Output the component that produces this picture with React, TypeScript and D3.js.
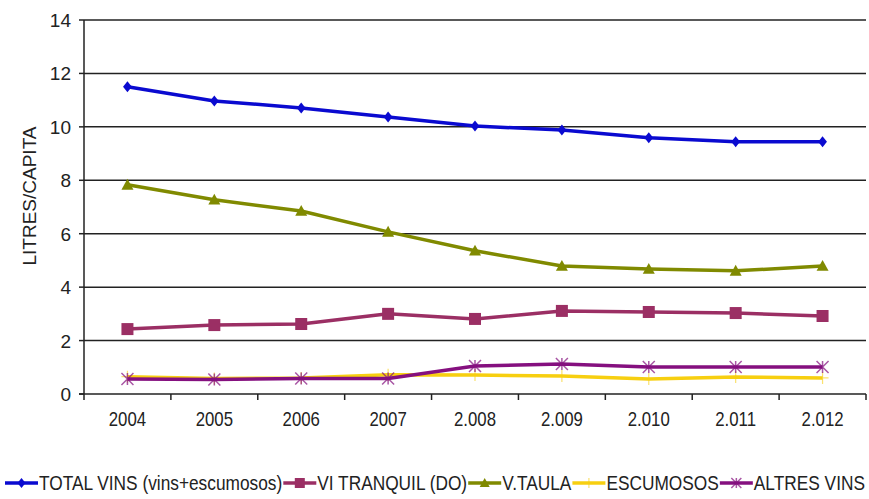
import React, { useEffect, useRef } from "react";
import * as d3 from "d3";

const years = ["2004", "2005", "2006", "2007", "2.008", "2.009", "2.010", "2.011", "2.012"];
const totalVins = [11.5, 10.97, 10.71, 10.37, 10.03, 9.88, 9.59, 9.44, 9.44];
const viTranquil = [2.43, 2.58, 2.62, 3.0, 2.81, 3.11, 3.07, 3.03, 2.92];
const vTaula = [7.83, 7.27, 6.85, 6.07, 5.36, 4.79, 4.68, 4.61, 4.79];
const escumosos = [0.65, 0.58, 0.6, 0.72, 0.71, 0.67, 0.56, 0.64, 0.6];
const altresVins = [0.56, 0.54, 0.58, 0.58, 1.05, 1.12, 1.01, 1.01, 1.01];
const yTicks = [0, 2, 4, 6, 8, 10, 12, 14];
const seriesNames = ["TOTAL VINS (vins+escumosos)", "VI TRANQUIL (DO)", "V.TAULA", "ESCUMOSOS", "ALTRES VINS"];
const seriesValues = [totalVins, viTranquil, vTaula, escumosos, altresVins];
const seriesColors = ["#0a0ad0", "#9b2f64", "#808a00", "#f7cf10", "#85107f"];
const seriesMarkers = ["diamond", "square", "triangle", "cross", "asterisk"];

const W = 869;
const H = 499;
const M = { left: 84, right: 3, top: 20, bottom: 105 };

function drawMarker(g: any, type: string, x: number, y: number, color: string, s: number) {
  if (type === "diamond") {
    g.append("path")
      .attr("d", `M${x},${y - s}L${x + s * 0.8},${y}L${x},${y + s}L${x - s * 0.8},${y}Z`)
      .attr("fill", color);
  } else if (type === "square") {
    g.append("rect").attr("x", x - s).attr("y", y - s).attr("width", 2 * s).attr("height", 2 * s).attr("fill", color);
  } else if (type === "triangle") {
    g.append("path")
      .attr("d", `M${x},${y - s}L${x + s},${y + s * 0.8}L${x - s},${y + s * 0.8}Z`)
      .attr("fill", color);
  } else if (type === "cross") {
    g.append("path")
      .attr("d", `M${x - s},${y}L${x + s},${y}M${x},${y - s}L${x},${y + s}`)
      .attr("stroke", color).attr("stroke-width", 1.2).attr("opacity", 0.6);
  } else if (type === "asterisk") {
    g.append("path")
      .attr("d", `M${x - s},${y - s}L${x + s},${y + s}M${x - s},${y + s}L${x + s},${y - s}M${x},${y - s}L${x},${y + s}`)
      .attr("stroke", color).attr("stroke-width", 1.5).attr("opacity", 0.7);
  }
}

export default function App() {
  const ref = useRef<SVGSVGElement>(null);
  useEffect(() => {
    const svg = d3.select(ref.current);
    svg.selectAll("*").remove();
    const x = d3.scaleBand().domain(years).range([M.left, W - M.right]);
    const y = d3.scaleLinear().domain([0, 14]).range([394, 20]);
    const font = "Liberation Sans, Arial, sans-serif";

    // gridlines
    svg.append("g").selectAll("line").data(yTicks.filter((t) => t > 0)).join("line")
      .attr("x1", M.left).attr("x2", W - M.right)
      .attr("y1", (d) => y(d)).attr("y2", (d) => y(d))
      .attr("stroke", "#222").attr("stroke-width", 1.5);

    // axes
    svg.append("line").attr("x1", M.left).attr("x2", M.left).attr("y1", y(14)).attr("y2", y(0))
      .attr("stroke", "#222").attr("stroke-width", 1.5);
    svg.append("line").attr("x1", M.left - 5).attr("x2", W - M.right).attr("y1", y(0)).attr("y2", y(0))
      .attr("stroke", "#222").attr("stroke-width", 1.5);
    svg.append("g").selectAll("line").data(yTicks).join("line")
      .attr("x1", M.left - 5).attr("x2", M.left).attr("y1", (d) => y(d)).attr("y2", (d) => y(d))
      .attr("stroke", "#222").attr("stroke-width", 1.5);
    const bounds = years.map((yr) => x(yr) as number).concat([W - M.right]);
    svg.append("g").selectAll("line").data(bounds).join("line")
      .attr("x1", (d) => d).attr("x2", (d) => d).attr("y1", y(0)).attr("y2", y(0) + 6)
      .attr("stroke", "#222").attr("stroke-width", 1.5);

    // y labels
    svg.append("g").selectAll("text").data(yTicks).join("text")
      .attr("x", 71).attr("y", (d) => y(d) + 7)
      .attr("text-anchor", "end").attr("font-family", font)
      .attr("font-size", 19).attr("fill", "#222").text((d) => d);

    // x labels
    svg.append("g").selectAll("text").data(years).join("text")
      .attr("transform", (d) => `translate(${(x(d) as number) + x.bandwidth() / 2},${y(0) + 32}) scale(0.84,1)`)
      .attr("text-anchor", "middle").attr("font-family", font)
      .attr("font-size", 20).attr("fill", "#222").text((d) => d);

    // y title
    svg.append("text").attr("transform", `translate(36,196) rotate(-90)`)
      .attr("text-anchor", "middle").attr("font-family", font)
      .attr("font-size", 19).attr("fill", "#222").text("LITRES/CAPITA");

    // series
    const cx = (i: number) => (x(years[i]) as number) + x.bandwidth() / 2;
    const line = d3.line<number>().x((_, i) => cx(i)).y((d) => y(d));
    const sizes = [5.5, 6, 6, 6, 6];
    seriesValues.forEach((vals, si) => {
      const g = svg.append("g");
      g.append("path").attr("d", line(vals)).attr("fill", "none")
        .attr("stroke", seriesColors[si]).attr("stroke-width", 3.5).attr("stroke-linejoin", "round");
      vals.forEach((v, i) => drawMarker(g, seriesMarkers[si], cx(i), y(v), seriesColors[si], sizes[si]));
    });

    // legend
    const lg = svg.append("g");
    const ly = 490;
    const lineW = 33;
    const start = 5;
    const end = 866;
    const texts = seriesNames.map((name) =>
      lg.append("text").attr("font-family", font).attr("font-size", 20).attr("fill", "#222").text(name)
    );
    const widths = texts.map((t) => (t.node() as SVGTextElement).getComputedTextLength());
    const sum = widths.reduce((a, b) => a + b, 0);
    const sx = (end - start - seriesNames.length * (lineW + 2)) / sum;
    let cur = start;
    seriesNames.forEach((name, si) => {
      const x0 = cur;
      lg.append("line").attr("x1", x0).attr("x2", x0 + lineW).attr("y1", ly - 7).attr("y2", ly - 7)
        .attr("stroke", seriesColors[si]).attr("stroke-width", 3.5);
      drawMarker(lg, seriesMarkers[si], x0 + lineW / 2, ly - 7, seriesColors[si], 5);
      texts[si].attr("transform", `translate(${x0 + lineW + 1},${ly}) scale(${sx},1)`);
      cur = x0 + lineW + 2 + widths[si] * sx;
    });
  }, []);
  return (
    <svg ref={ref} width={W} height={H} style={{ position: "absolute", left: 0, top: 0, background: "#fff" }} />
  );
}
